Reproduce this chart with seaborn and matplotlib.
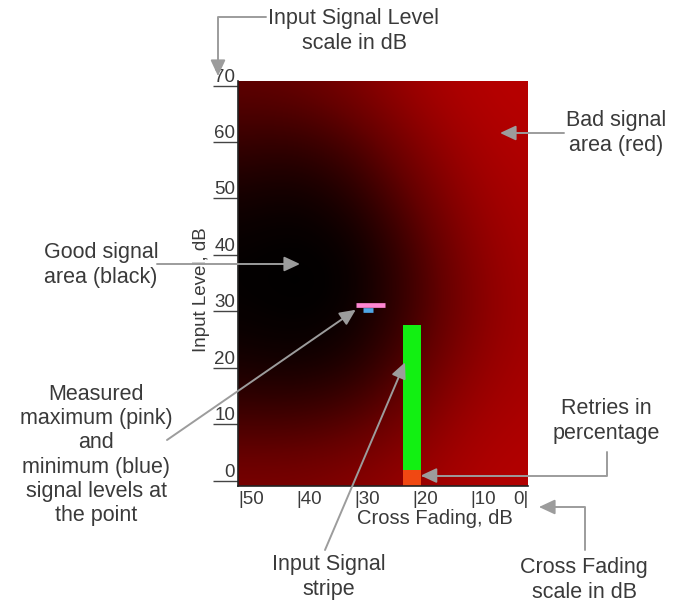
import numpy as np
import pandas as pd
import matplotlib
matplotlib.use("Agg")
import matplotlib.pyplot as plt
from matplotlib.colors import LinearSegmentedColormap
import seaborn as sns

# ==========================================
# DATA
# ==========================================
# background "bad signal" intensity (0 = black / good, 1 = full red / bad)
fade_cols = [50, 40, 30, 20, 10, 0]                 # cross fading, dB (left -> right)
level_rows = [70, 60, 50, 40, 30, 20, 10, 0]        # input level, dB (top -> bottom)
bad_signal = [
    [0.48, 0.52, 0.65, 0.84, 0.95, 0.98],
    [0.28, 0.24, 0.38, 0.66, 0.88, 0.95],
    [0.10, 0.05, 0.16, 0.48, 0.79, 0.91],
    [0.02, 0.00, 0.02, 0.32, 0.70, 0.88],
    [0.03, 0.00, 0.03, 0.30, 0.66, 0.86],
    [0.12, 0.08, 0.16, 0.43, 0.74, 0.88],
    [0.36, 0.36, 0.44, 0.63, 0.85, 0.92],
    [0.64, 0.64, 0.70, 0.80, 0.92, 0.96],
]

# input signal stripe
stripe_fade = 20.0
stripe_width = 3.0
stripe_top = 27.6
retries_top = 1.9
level_floor = -0.9
level_ceil = 70.8

# measured max (pink) / min (blue) at the point
max_fade = [29.7, 24.7]
max_level = 31.2
min_fade = [28.4, 26.7]
min_level = 30.3

x_ticks = [50, 40, 30, 20, 10, 0]
x_tick_labels = ["|50", "|40", "|30", "|20", "|10", "0|"]
y_ticks = [0, 10, 20, 30, 40, 50, 60, 70]

# ==========================================
# STYLE
# ==========================================
sns.set_theme(style="white")
plt.rcParams['font.family'] = ['Liberation Sans', 'DejaVu Sans']
txt_col = "#3a3a3a"
arrow_col = "#9c9c9c"

W, H = 674, 606
fig = plt.figure(figsize=(W / 100, H / 100), dpi=100)
ax = fig.add_axes([238 / W, 1 - 486 / H, 290 / W, 405 / H])


def fxy(px, py):
    # picture pixel (from top-left) -> figure fraction
    return (px / W, 1 - py / H)


# background gradient
cmap = LinearSegmentedColormap.from_list("signal", ["#000000", "#640000", "#bc0000"])
grid = np.array(bad_signal)
ax.imshow(grid, cmap=cmap, vmin=0, vmax=1, interpolation="bicubic", aspect="auto",
          extent=(fade_cols[0] + 5, fade_cols[-1] - 5, level_rows[-1] - 5, level_rows[0] + 5),
          zorder=0)

# input signal stripe: green level + orange retries
ax.bar(stripe_fade, stripe_top - retries_top, bottom=retries_top, width=stripe_width,
       color="#12f012", edgecolor="none", zorder=2)
ax.bar(stripe_fade, retries_top - level_floor, bottom=level_floor, width=stripe_width,
       color="#f04812", edgecolor="none", zorder=2)

# measured max / min marks
marks = pd.DataFrame({
    "fade": max_fade + min_fade,
    "level": [max_level] * 2 + [min_level] * 2,
    "kind": ["max", "max", "min", "min"],
})
sns.lineplot(data=marks, x="fade", y="level", hue="kind",
             palette={"max": "#ff86d2", "min": "#4fa6e6"},
             linewidth=3.4, solid_capstyle="butt", legend=False, ax=ax, zorder=3)

ax.set_xlim(50, 0)
ax.set_ylim(level_floor, level_ceil)

# axes / ticks
for side in ["top", "right"]:
    ax.spines[side].set_visible(False)
for side in ["left", "bottom"]:
    ax.spines[side].set_color("#222222")
    ax.spines[side].set_linewidth(1.2)

ax.set_xticks(x_ticks)
ax.set_xticklabels(x_tick_labels)
ax.tick_params(axis="x", length=0, pad=3.5, labelsize=13.5, labelcolor=txt_col)
for lab, t in zip(ax.get_xticklabels(), x_ticks):
    lab.set_ha("right" if t == 0 else "left")

ax.set_yticks(y_ticks)
ax.tick_params(axis="y", left=True, direction="out", length=18, width=1,
               color="#444444", pad=-16, labelsize=13.5, labelcolor=txt_col)
for lab in ax.get_yticklabels():
    lab.set_va("bottom")

ax.set_xlabel("Cross Fading, dB", fontsize=14.5, color=txt_col)
ax.xaxis.set_label_coords(0.68, -0.058)
ax.set_ylabel("Input Level, dB", fontsize=13.5, color=txt_col)
ax.yaxis.set_label_coords(-0.098, 0.484)

# ==========================================
# ANNOTATIONS
# ==========================================
fs = 15.5
fig.text(*fxy(354, 31), "Input Signal Level\nscale in dB", ha="center", va="center",
         fontsize=fs, color=txt_col)
fig.text(*fxy(616, 133), "Bad signal\narea (red)", ha="center", va="center",
         fontsize=fs, color=txt_col)
fig.text(*fxy(101, 265), "Good signal\narea (black)", ha="center", va="center",
         fontsize=fs, color=txt_col)
fig.text(*fxy(96, 455), "Measured\nmaximum (pink)\nand\nminimum (blue)\nsignal levels at\nthe point",
         ha="center", va="center", fontsize=fs, color=txt_col)
fig.text(*fxy(606, 421), "Retries in\npercentage", ha="center", va="center",
         fontsize=fs, color=txt_col)
fig.text(*fxy(329, 577), "Input Signal\nstripe", ha="center", va="center",
         fontsize=fs, color=txt_col)
fig.text(*fxy(584, 580), "Cross Fading\nscale in dB", ha="center", va="center",
         fontsize=fs, color=txt_col)

arrow = dict(arrowstyle="-|>,head_length=0.6,head_width=0.28", color=arrow_col,
             lw=1.4, mutation_scale=16, shrinkA=0, shrinkB=0)

def fig_arrow(start, end, conn="arc3"):
    ax.annotate("", xy=fxy(*end), xycoords="figure fraction",
                xytext=fxy(*start), textcoords="figure fraction",
                arrowprops=dict(arrow, connectionstyle=conn),
                annotation_clip=False, zorder=6)

def data_arrow(start, xy, conn="arc3"):
    ax.annotate("", xy=xy, xycoords="data",
                xytext=fxy(*start), textcoords="figure fraction",
                arrowprops=dict(arrow, connectionstyle=conn),
                annotation_clip=False, zorder=6)

fig_arrow((266, 17), (218, 76), "angle,angleA=0,angleB=90,rad=0")
fig_arrow((564, 133), (500, 133))
fig_arrow((157, 264), (300, 264))
data_arrow((167, 440), (max_fade[0], min_level))
data_arrow((325, 550), (stripe_fade + 1.2, 21))
data_arrow((607, 452), (stripe_fade - stripe_width / 2, retries_top / 2),
           "angle,angleA=90,angleB=0,rad=0")
fig_arrow((585, 550), (539, 507), "angle,angleA=90,angleB=0,rad=0")

fig.savefig("out.png", dpi=100)
